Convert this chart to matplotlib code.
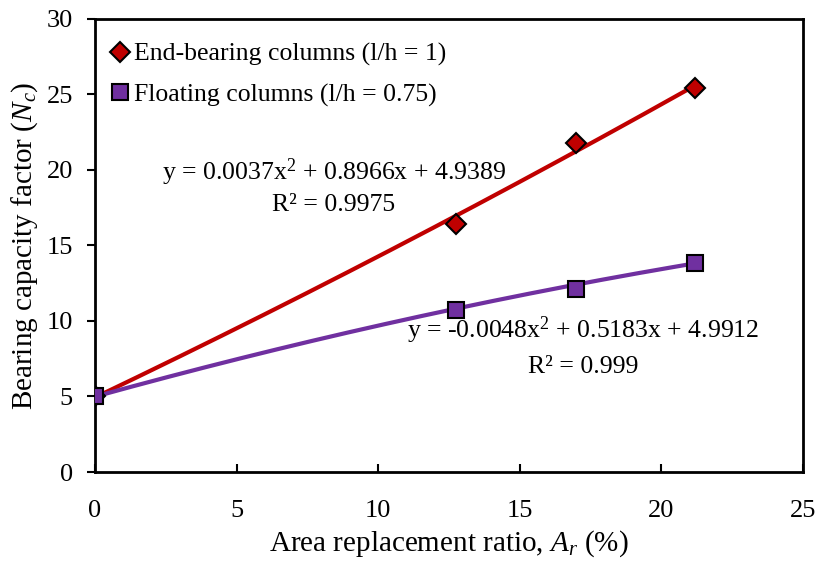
import numpy as np
import matplotlib
matplotlib.use("Agg")
import matplotlib.pyplot as plt
from matplotlib.lines import Line2D

plt.rcParams["font.family"] = ["Liberation Serif", "DejaVu Serif"]
plt.rcParams["mathtext.fontset"] = "custom"
plt.rcParams["mathtext.rm"] = "Liberation Serif"
plt.rcParams["mathtext.it"] = "Liberation Serif:italic"

# Area replacement ratio (%) and bearing capacity factors
ratio = [0.0, 12.73, 16.97, 21.2]
end_bearing = [5.0, 16.45, 21.8, 25.4]
floating = [5.0, 10.75, 12.15, 13.85]

# Second-order trendline coefficients (a, b, c) for y = a x^2 + b x + c
end_bearing_fit = [0.0037, 0.8966, 4.9389]
floating_fit = [-0.0048, 0.5183, 4.9912]
end_bearing_r2 = "0.9975"
floating_r2 = "0.999"

series_labels = ["End-bearing columns (l/h = 1)", "Floating columns (l/h = 0.75)"]
x_ticks = [0, 5, 10, 15, 20, 25]
y_ticks = [0, 5, 10, 15, 20, 25, 30]

red = "#C00000"
purple = "#7030A0"
fs = 18.5
tick_fs = 19
label_fs = 21

fig = plt.figure(figsize=(8.19, 5.65), dpi=100)
ax = fig.add_axes([0.1160, 0.1646, 0.8645, 0.8018])

xs = np.linspace(0, max(ratio), 200)
ax.plot(xs, np.polyval(end_bearing_fit, xs), color=red, lw=3.0, zorder=2)
ax.plot(xs, np.polyval(floating_fit, xs), color=purple, lw=3.0, zorder=2)

ax.plot(ratio, end_bearing, ls="none", marker="D", ms=10, mfc=red, mec="black",
        mew=1.5, zorder=3)
ax.plot(ratio, floating, ls="none", marker="s", ms=12, mfc=purple, mec="black",
        mew=1.5, zorder=4)


def equation(c):
    a, b, k = c
    return f"y = {a:g}x$^{{2}}$ + {b:g}x + {k:g}"


ax.text(8.44, 19.87, equation(end_bearing_fit), ha="center", va="center", fontsize=fs)
ax.text(8.44, 17.68, f"R² = {end_bearing_r2}", ha="center", va="center", fontsize=fs)
ax.text(17.23, 9.40, equation(floating_fit), ha="center", va="center", fontsize=fs)
ax.text(17.23, 6.95, f"R² = {floating_r2}", ha="center", va="center", fontsize=fs)

handles = [
    Line2D([], [], ls="none", marker="D", ms=10, mfc=red, mec="black", mew=1.5),
    Line2D([], [], ls="none", marker="s", ms=12, mfc=purple, mec="black", mew=1.5),
]
ax.legend(handles, series_labels, loc="upper left", bbox_to_anchor=(0.008, 0.965),
          frameon=False, fontsize=fs, handlelength=0.9, handletextpad=0.1,
          labelspacing=0.68, borderaxespad=0.0, borderpad=0.3)

ax.set_xlim(0, 25)
ax.set_ylim(0, 30)
ax.set_xticks(x_ticks)
ax.set_yticks(y_ticks)
ax.tick_params(axis="x", direction="in", length=6, width=1.5, pad=20, labelsize=tick_fs)
ax.tick_params(axis="y", direction="out", length=6, width=1.5, pad=10, labelsize=tick_fs)
for s in ax.spines.values():
    s.set_linewidth(2.0)

ax.set_xlabel("Area replacement ratio, $A_r$ (%)", fontsize=label_fs)
ax.set_ylabel("Bearing capacity factor ($N_c$)", fontsize=label_fs)
ax.xaxis.set_label_coords(0.5, -0.125)
ax.yaxis.set_label_coords(-0.078, 0.5)

fig.savefig("out.png", dpi=100)
